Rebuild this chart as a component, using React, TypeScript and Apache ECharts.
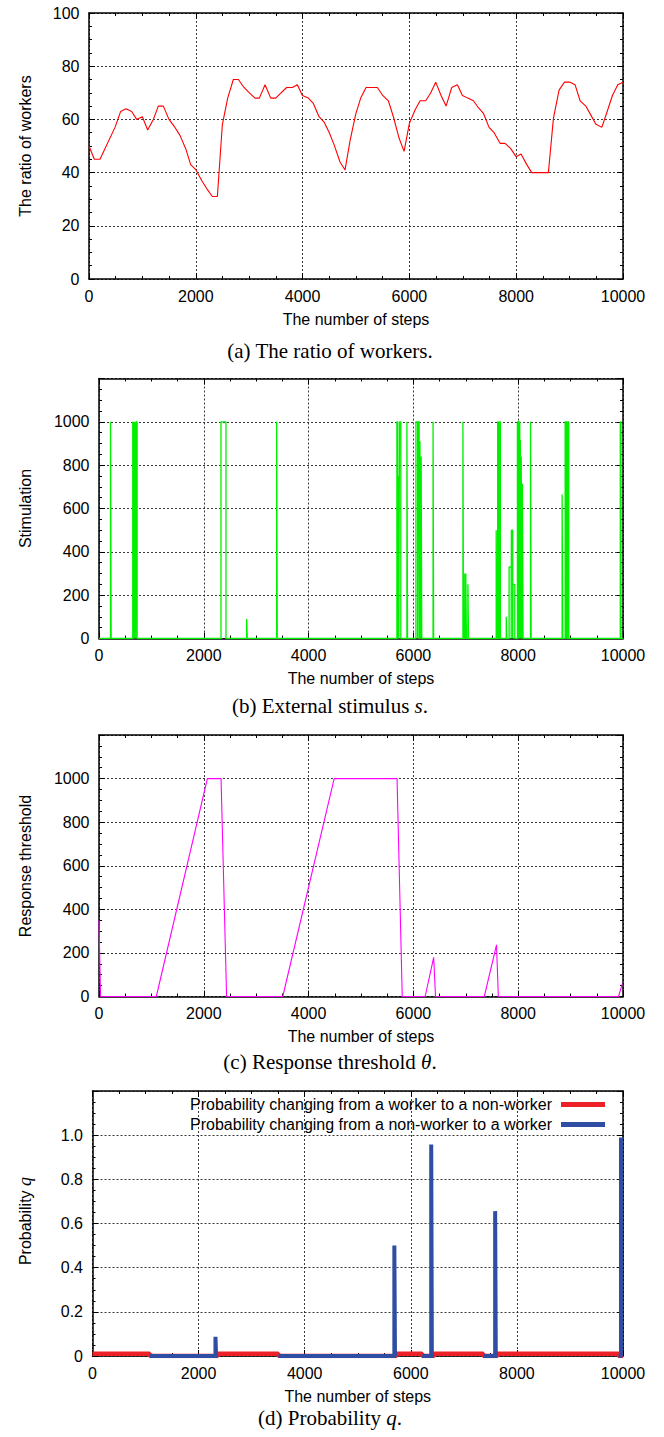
import React, { useEffect, useRef } from "react";
import * as echarts from "echarts";

// ---------- data ----------
const stepTicks = { min: 0, max: 10000, interval: 2000 };

// (a) ratio of workers [%]
const ratioSteps = [0, 100, 206, 487, 593, 693, 799, 893, 999, 1099, 1205, 1298, 1392, 1498, 1592, 1704, 1811, 1904, 2004, 2110, 2204, 2310, 2404, 2497, 2597, 2703, 2797, 2903, 3003, 3109, 3190, 3297, 3403, 3496, 3596, 3702, 3808, 3902, 3996, 4108, 4201, 4308, 4402, 4500, 4589, 4701, 4795, 4889, 4995, 5088, 5188, 5400, 5500, 5606, 5700, 5806, 5900, 6000, 6106, 6200, 6306, 6400, 6493, 6593, 6687, 6793, 6899, 6993, 7093, 7199, 7292, 7386, 7492, 7586, 7698, 7792, 7898, 7997, 8091, 8198, 8291, 8603, 8697, 8803, 8903, 9009, 9103, 9197, 9303, 9396, 9490, 9603, 9696, 9802, 9902, 10000];
const ratioValues = [50, 45, 45, 57, 63, 64, 63, 60, 61, 56, 60, 65, 65, 60, 57.5, 54, 49, 43, 41, 37, 34, 31, 31, 58, 68, 75, 75, 72, 70, 68, 68, 73, 68, 68, 70, 72, 72, 73, 69, 68, 66, 61, 59, 55, 50.5, 44, 41, 52, 62, 68, 72, 72, 69, 67, 61, 53, 48, 58.5, 63.5, 67, 67, 70, 74, 69, 65, 72, 73, 69, 68, 67, 64.4, 62.3, 57, 55, 51, 51, 49, 46, 47, 43, 40, 40, 60.4, 71, 74, 74, 73, 67, 65, 61.7, 58.3, 57, 62.5, 69, 73, 74];

// (b) external stimulus: pulses [start step, end step, level]
const stimulusPulses = [
  [220, 232, 1000],
  [644, 656, 1000], [666, 678, 1000], [690, 702, 1000], [712, 728, 1000],
  [2328, 2423, 1000],
  [2818, 2830, 90],
  [3390, 3402, 1000],
  [5685, 5700, 1000], [5712, 5722, 750], [5735, 5760, 1000],
  [5876, 5888, 1000],
  [6048, 6080, 1000], [6090, 6110, 1000], [6125, 6138, 910], [6148, 6160, 840],
  [6375, 6386, 1000],
  [6945, 6956, 1000], [6980, 6990, 300], [7000, 7012, 300], [7040, 7052, 250],
  [7580, 7590, 500], [7608, 7625, 1000], [7642, 7660, 1000],
  [7772, 7782, 100],
  [7826, 7866, 330], [7870, 7895, 500], [7900, 7935, 250],
  [7985, 8005, 1000], [8012, 8030, 1000], [8040, 8052, 917], [8058, 8070, 840], [8080, 8093, 714],
  [8235, 8247, 1000],
  [8838, 8850, 665],
  [8896, 8910, 1000], [8920, 8935, 1000], [8950, 8965, 1000],
  [9948, 9962, 1000],
];

// (c) response threshold
const thresholdSteps = [0, 30, 1094, 2068, 2329, 2435, 3507, 4488, 5688, 5787, 6224, 6387, 6422, 7353, 7586, 7621, 9915, 9990];
const thresholdValues = [350, 0, 0, 1000, 1000, 0, 0, 1000, 1000, 0, 0, 180, 0, 0, 237, 0, 0, 60];

// (d) probabilities
const workerToNonSteps = [0, 1082, 1082, 2360, 2360, 3505, 3505, 5726, 5726, 6215, 6215, 6438, 6438, 7367, 7367, 7632, 7632, 9916, 9916, 10000];
const workerToNonValues = [0.01, 0.01, 0, 0, 0.01, 0.01, 0, 0, 0.01, 0.01, 0, 0, 0.01, 0.01, 0, 0, 0.01, 0.01, 0, 0];
const nonToWorkerSegments = [
  [[1082, 0], [2318, 0], [2318, 0.087], [2330, 0.087], [2330, 0], [2360, 0]],
  [[3505, 0], [5690, 0], [5690, 0.5], [5702, 0.5], [5702, 0], [5726, 0]],
  [[6215, 0], [6385, 0], [6385, 0.958], [6397, 0.958], [6397, 0], [6438, 0]],
  [[7367, 0], [7590, 0], [7590, 0.656], [7602, 0.656], [7602, 0], [7632, 0]],
  [[9916, 0], [9962, 0], [9962, 0.99], [9975, 0.99]],
];

const legendNames = [
  "Probability changing from a worker to a non-worker",
  "Probability changing from a non-worker to a worker",
];

// ---------- styling ----------
const SANS = "Liberation Sans";
const SERIF = "Liberation Serif";
const FS = 16;

const grids = [
  { left: 89, top: 13, width: 534, height: 266 },
  { left: 99, top: 378.5, width: 524, height: 260 },
  { left: 99, top: 735, width: 524, height: 261.5 },
  { left: 92.5, top: 1091, width: 530.5, height: 265 },
];

const yRanges = [
  { min: 0, max: 100, interval: 20 },
  { min: 0, max: 1200, interval: 200 },
  { min: 0, max: 1200, interval: 200 },
  { min: 0, max: 1.2, interval: 0.2 },
];

const axisLine = { show: true, onZero: false, lineStyle: { color: "#000", width: 1.5 } };
const axisTick = { show: true, inside: true, length: 6, lineStyle: { color: "#000", width: 1 } };
const minorTick = { show: true, splitNumber: 4, length: 3, lineStyle: { color: "#000", width: 1 } };
const gridLine = { show: true, lineStyle: { color: "#222", width: 0.9, type: [2, 2] } };

function yFormatter(g: number) {
  return (v: number) => {
    if (g === 0) return String(v);
    if (g === 3) {
      if (v > 1.1) return "";
      if (Math.abs(v) < 1e-9) return "0";
      return v.toFixed(1);
    }
    if (v > 1100) return "";
    return String(v);
  };
}

export default function App() {
  const ref = useRef<HTMLDivElement>(null);
  useEffect(() => {
    if (!ref.current) return;
    const chart = echarts.init(ref.current, undefined, { renderer: "svg" });

    const xAxis: any[] = [];
    const yAxis: any[] = [];
    grids.forEach((_, g) => {
      xAxis.push({
        type: "value", gridIndex: g, ...stepTicks, position: "bottom",
        axisLine, axisTick, minorTick, splitLine: gridLine,
        axisLabel: { margin: 9, color: "#000", fontFamily: SANS, fontSize: FS, formatter: (v: number) => String(v) },
        name: "The number of steps", nameLocation: "middle", nameGap: 32,
        nameTextStyle: { color: "#000", fontFamily: SANS, fontSize: FS },
      });
      xAxis.push({
        type: "value", gridIndex: g, ...stepTicks, position: "top",
        axisLine, axisTick, minorTick, splitLine: { show: false },
        axisLabel: { show: false },
      });
      yAxis.push({
        type: "value", gridIndex: g, ...yRanges[g], position: "left",
        axisLine, axisTick, minorTick, splitLine: gridLine,
        axisLabel: { margin: 9.5, color: "#000", fontFamily: SANS, fontSize: FS, formatter: yFormatter(g) },
      });
      yAxis.push({
        type: "value", gridIndex: g, ...yRanges[g], position: "right",
        axisLine, axisTick, minorTick, splitLine: { show: false },
        axisLabel: { show: false },
      });
    });

    const stimulusData: number[][] = [[0, 0]];
    stimulusPulses.forEach(([s, e, v]) => {
      stimulusData.push([s, 0], [s, v], [e, v], [e, 0]);
    });
    stimulusData.push([10000, 0]);

    const series: any[] = [
      {
        type: "line", xAxisIndex: 0, yAxisIndex: 0, showSymbol: false, symbol: "none",
        data: ratioSteps.map((s, i) => [s, ratioValues[i]]),
        lineStyle: { color: "#ff0000", width: 1.1 }, itemStyle: { color: "#ff0000" },
      },
      {
        type: "line", xAxisIndex: 2, yAxisIndex: 2, showSymbol: false, symbol: "none",
        data: stimulusData,
        lineStyle: { color: "#00f000", width: 1.3 }, itemStyle: { color: "#00f000" },
      },
      {
        type: "line", xAxisIndex: 4, yAxisIndex: 4, showSymbol: false, symbol: "none",
        data: thresholdSteps.map((s, i) => [s, thresholdValues[i]]),
        lineStyle: { color: "#ff00ff", width: 1.1 }, itemStyle: { color: "#ff00ff" },
      },
      {
        type: "line", name: legendNames[0], xAxisIndex: 6, yAxisIndex: 6, showSymbol: false, symbol: "none",
        data: workerToNonSteps.map((s, i) => [s, workerToNonValues[i]]),
        lineStyle: { color: "#ec2228", width: 4.5 }, itemStyle: { color: "#ec2228" }, z: 2,
      },
      ...nonToWorkerSegments.map((seg) => ({
        type: "line", name: legendNames[1], xAxisIndex: 6, yAxisIndex: 6, showSymbol: false, symbol: "none",
        data: seg,
        lineStyle: { color: "#2f4ea3", width: 4 }, itemStyle: { color: "#2f4ea3" }, z: 3,
      })),
    ];

    const yTitle = (text: string, y: number) => ({
      type: "text", x: 25, y, rotation: Math.PI / 2,
      style: { text, fill: "#000", fontFamily: SANS, fontSize: FS, align: "center", verticalAlign: "middle" },
    });
    const caption = (text: string, y: number) => ({
      type: "text", x: 330, y,
      style: {
        text, fill: "#000", fontFamily: SERIF, fontSize: 21, align: "center", verticalAlign: "middle",
        rich: { i: { fontFamily: SERIF, fontStyle: "italic", fontSize: 21, fill: "#000" } },
      },
    });

    chart.setOption({
      animation: false,
      backgroundColor: "#fff",
      grid: grids.map((g) => ({ ...g, containLabel: false })),
      xAxis, yAxis, series,
      legend: {
        data: legendNames, orient: "vertical", right: 59, top: 1095, align: "right",
        icon: "rect", itemWidth: 44, itemHeight: 5, itemGap: 1, padding: 0, selectedMode: false,
        textStyle: { color: "#000", fontFamily: SANS, fontSize: FS, lineHeight: 19, padding: [0, 4, 0, 0] },
      },
      graphic: [
        yTitle("The ratio of workers", 146),
        yTitle("Stimulation", 508.5),
        yTitle("Response threshold", 866),
        {
          type: "text", x: 25, y: 1221, rotation: Math.PI / 2,
          style: {
            text: "Probability {q|q}", fill: "#000", fontFamily: SANS, fontSize: FS, align: "center", verticalAlign: "middle",
            rich: { q: { fontFamily: SERIF, fontStyle: "italic", fontSize: 18, fill: "#000" } },
          },
        },
        caption("(a) The ratio of workers.", 351),
        caption("(b) External stimulus {i|s}.", 706),
        caption("(c) Response threshold {i|θ}.", 1062),
        caption("(d) Probability {i|q}.", 1418),
      ],
    });
    return () => chart.dispose();
  }, []);
  return <div ref={ref} style={{ position: "absolute", left: 0, top: 0, width: 664, height: 1437, background: "#fff" }} />;
}
